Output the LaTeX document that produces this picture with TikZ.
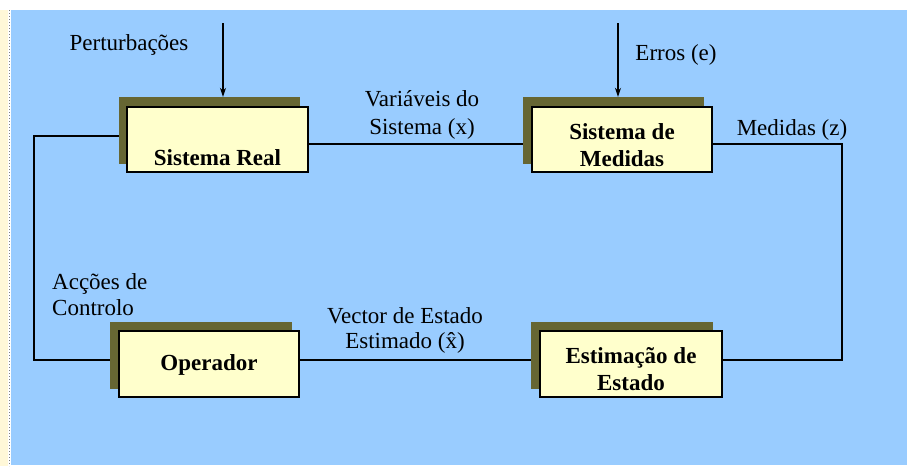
\documentclass[tikz,border=0pt]{standalone}
\usepackage{fontspec}
\setmainfont{Liberation Serif}
\usetikzlibrary{arrows.meta}
\definecolor{bgblue}{HTML}{99CCFF}
\definecolor{boxfill}{HTML}{FFFFCC}
\definecolor{shadowc}{HTML}{666633}
\definecolor{stripc}{HTML}{FFF8D8}
\pgfdeclarelayer{bg}
\pgfdeclarelayer{lines}
\pgfsetlayers{bg,lines,main}
\begin{document}
\begin{tikzpicture}[x=1pt,y=-1pt,
  box/.style={draw=black,line width=1.1pt,fill=boxfill,minimum width=#1,minimum height=65pt,inner sep=0pt},
  box/.default=181pt,
  shad/.style={fill=shadowc,minimum width=#1,minimum height=67pt,inner sep=0pt},
  shad/.default=181pt,
  wire/.style={line width=1.1pt,black},
  arr/.style={line width=1.1pt,black,-{Stealth[length=9pt,width=6pt]}},
  lab/.style={font=\fontsize{23}{26}\selectfont,inner sep=0pt},
  blab/.style={font=\fontsize{23}{27}\selectfont\bfseries,inner sep=0pt,align=center}
]
\useasboundingbox (0,0) rectangle (907,466);
\begin{pgfonlayer}{bg}
  \fill[white] (0,0) rectangle (907,466);
  \fill[stripc] (0,10) rectangle (8,466);
  \draw[gray,line width=1pt,dotted] (9.5,10) -- (9.5,466);
  \fill[bgblue] (11,10) rectangle (907,465);
\end{pgfonlayer}

% shadows
\node[shad=181pt] (SRs) at (209,130.5) {};
\node[shad=181pt] (SMs) at (613.5,130.5) {};
\node[shad=182pt] (OPs) at (201,355) {};
\node[shad=182pt] (EEs) at (622,355) {};

% boxes
\node[box=181pt] (SR) at (217.5,139.5) {};
\node[box=180pt] (SM) at (622,139.5) {};
\node[box=180pt,minimum height=66pt] (OP) at (209,364) {};
\node[box=182pt,minimum height=66pt] (EE) at (631,364) {};

\node[blab] (SRt) at (217.5,158) {Sistema Real};
\node[blab] (SMt) at (622,145) {Sistema de\\Medidas};
\node[blab] (OPt) at (209,365) {Operador};
\node[blab] (EEt) at (631,369) {Estimação de\\Estado};

% labels
\node[lab] (pert) at (129,45) {Perturbações};
\node[lab,align=center,font=\fontsize{23}{28}\selectfont] (vars) at (422,115) {Variáveis do\\Sistema (x)};
\node[lab] (erros) at (676,55) {Erros (e)};
\node[lab] (med) at (792,130) {Medidas (z)};
\node[lab,align=left,anchor=west] (acc) at (52,295) {Acções de\\Controlo};
\node[lab,align=center,font=\fontsize{23}{25}\selectfont] (vec) at (405,330) {Vector de Estado\\Estimado (\^{x})};

% arrows in
\coordinate (p0) at (223,23);
\coordinate (e0) at (618,23);
\draw[arr] (p0) -- (p0 |- SRs.north);
\draw[arr] (e0) -- (e0 |- SMs.north);

% connectors
\coordinate (lc) at (34,0);
\coordinate (rc) at (842,0);
\begin{pgfonlayer}{lines}
  \draw[wire] ([yshift=-4.5pt]SR.east) -- ([yshift=-4.5pt]SR.east -| SM.west);
  \draw[wire] ([yshift=-4.5pt]SM.east) -| ([yshift=4pt]EE.east -| rc) -- ([yshift=4pt]EE.east);
  \draw[wire] ([yshift=4pt]OP.east) -- ([yshift=4pt]OP.east -| EE.west);
  \draw[wire] ([yshift=3.5pt]SR.west) -| ([yshift=4pt]OP.west -| lc) -- ([yshift=4pt]OP.west);
\end{pgfonlayer}
\end{tikzpicture}
\end{document}
